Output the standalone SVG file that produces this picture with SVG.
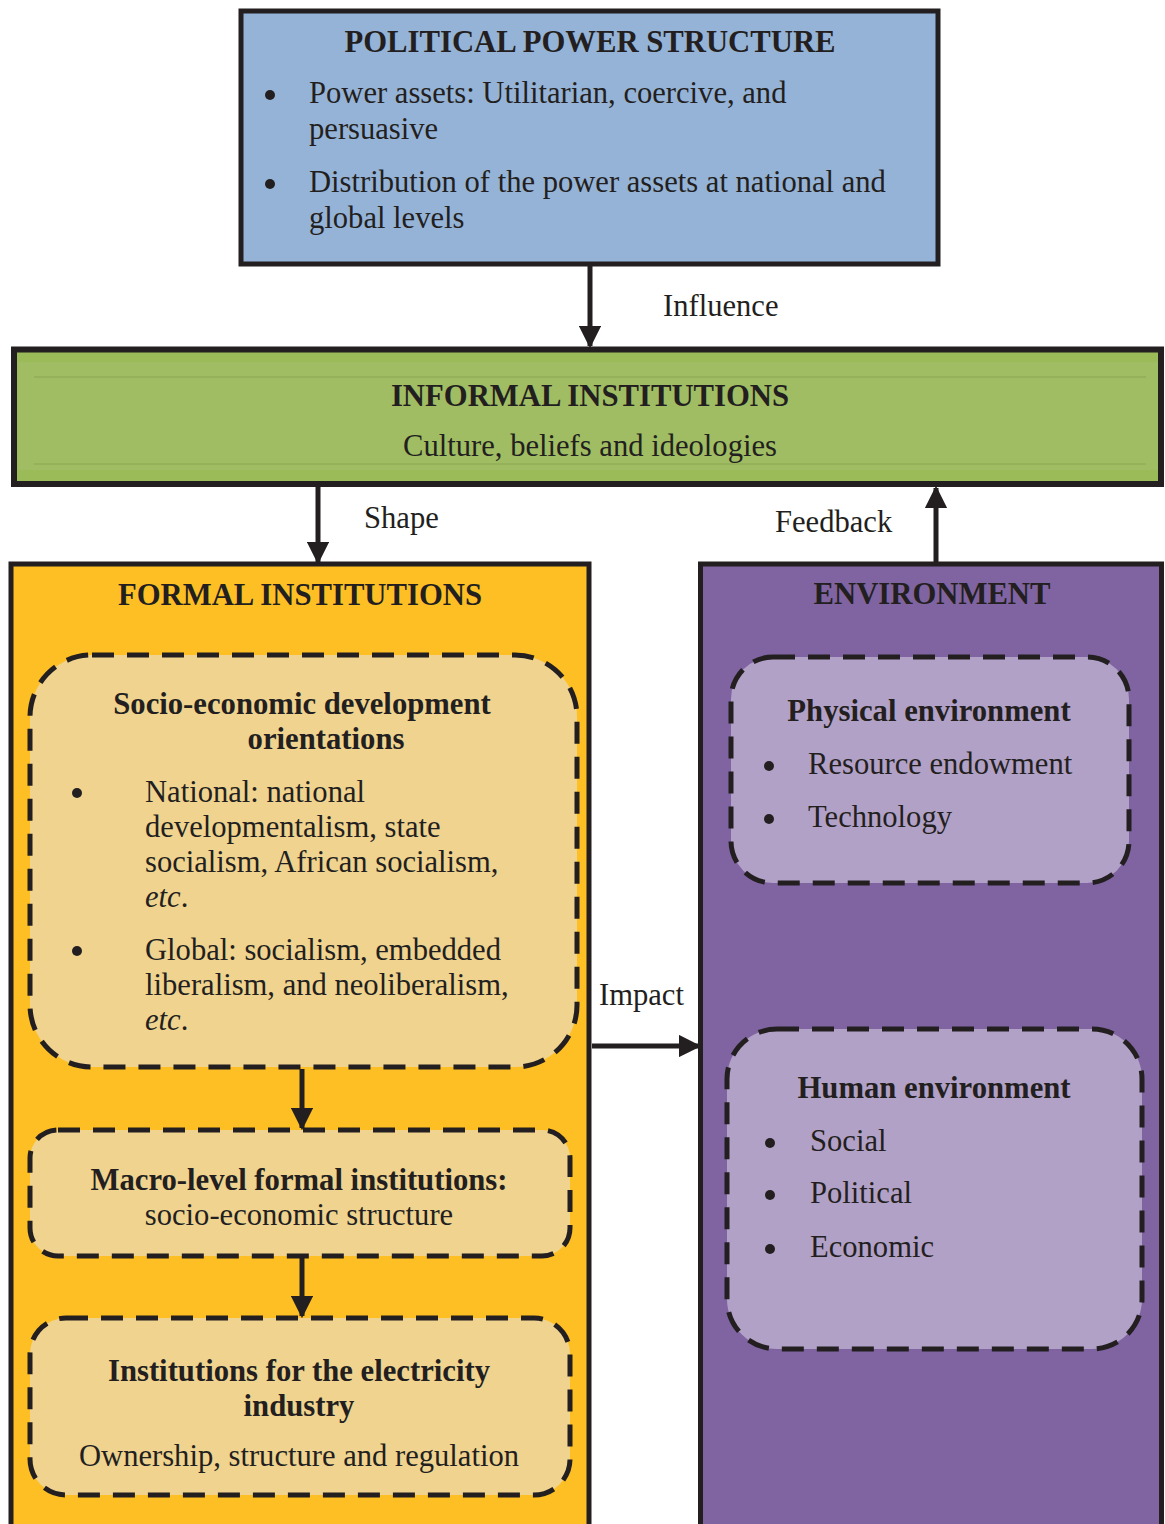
<svg xmlns="http://www.w3.org/2000/svg" width="1165" height="1524" viewBox="0 0 1165 1524">
  <style>
    .t { font-family: "Liberation Serif", "Times New Roman", serif; fill: #231f20; }
    .b { font-weight: bold; font-size: 30.7px; }
    .r { font-size: 30.6px; }
    .frame { stroke: #231f20; stroke-width: 5; }
    .dash { stroke: #231f20; stroke-width: 5; stroke-dasharray: 22 13; }
    .con { stroke: #231f20; stroke-width: 5; fill: none; }
    .dot { fill: #231f20; }
  </style>
  <defs>
    <marker id="arrow" viewBox="0 0 10 10" refX="9" refY="5" markerWidth="4.5" markerHeight="4.5" orient="auto" markerUnits="strokeWidth">
      <path d="M0,0 L10,5 L0,10 z" fill="#231f20"/>
    </marker>
  </defs>

  <rect width="1165" height="1524" fill="#ffffff"/>

  <!-- Political power structure -->
  <g id="political">
    <rect x="241" y="11" width="697" height="253" fill="#95b3d7" class="frame"/>
    <text class="t b" x="590" y="52" text-anchor="middle">POLITICAL POWER STRUCTURE</text>
    <circle class="dot" cx="270" cy="95" r="5"/>
    <text class="t r" x="309" y="103">Power assets: Utilitarian, coercive, and</text>
    <text class="t r" x="309" y="139">persuasive</text>
    <circle class="dot" cx="270" cy="184" r="5"/>
    <text class="t r" x="309" y="192">Distribution of the power assets at national and</text>
    <text class="t r" x="309" y="228">global levels</text>
  </g>

  <!-- Informal institutions -->
  <g id="informal">
    <rect x="14" y="349.5" width="1147" height="134.5" fill="#9bbb59" stroke="#231f20" stroke-width="6"/>
    <rect x="18" y="362" width="1140" height="108" fill="#a0bd63"/>
    <line x1="34" y1="377" x2="1146" y2="377" stroke="#8aa753" stroke-width="1.2"/>
    <line x1="34" y1="464" x2="1146" y2="464" stroke="#8aa753" stroke-width="1.2"/>
    <text class="t b" x="590" y="406" text-anchor="middle">INFORMAL INSTITUTIONS</text>
    <text class="t r" x="590" y="456" text-anchor="middle">Culture, beliefs and ideologies</text>
  </g>

  <!-- Formal institutions -->
  <g id="formal">
    <rect x="11" y="564" width="578" height="970" fill="#fdbf24" class="frame"/>
    <text class="t b" x="300" y="605" text-anchor="middle">FORMAL INSTITUTIONS</text>
  </g>

  <g id="orientations">
    <rect x="30" y="655" width="547" height="412" rx="62" fill="#efd38f" class="dash"/>
    <text class="t b" x="302" y="714" text-anchor="middle">Socio-economic development</text>
    <text class="t b" x="326" y="749" text-anchor="middle">orientations</text>
    <circle class="dot" cx="77" cy="793" r="5"/>
    <text class="t r" x="145" y="802">National: national</text>
    <text class="t r" x="145" y="837">developmentalism, state</text>
    <text class="t r" x="145" y="872">socialism, African socialism,</text>
    <text class="t r" x="145" y="907"><tspan font-style="italic">etc</tspan>.</text>
    <circle class="dot" cx="77" cy="951" r="5"/>
    <text class="t r" x="145" y="960">Global: socialism, embedded</text>
    <text class="t r" x="145" y="995">liberalism, and neoliberalism,</text>
    <text class="t r" x="145" y="1030"><tspan font-style="italic">etc</tspan>.</text>
  </g>

  <g id="macro">
    <rect x="30" y="1130" width="540" height="126" rx="28" fill="#efd38f" class="dash"/>
    <text class="t b" x="299" y="1190" text-anchor="middle">Macro-level formal institutions:</text>
    <text class="t r" x="299" y="1225" text-anchor="middle">socio-economic structure</text>
  </g>

  <g id="electricity">
    <rect x="30" y="1318" width="540" height="177" rx="36" fill="#efd38f" class="dash"/>
    <text class="t b" x="299" y="1381" text-anchor="middle">Institutions for the electricity</text>
    <text class="t b" x="299" y="1416" text-anchor="middle">industry</text>
    <text class="t r" x="299" y="1466" text-anchor="middle">Ownership, structure and regulation</text>
  </g>

  <!-- Environment -->
  <g id="environment">
    <rect x="700.5" y="564" width="461" height="970" fill="#8064a2" class="frame"/>
    <text class="t b" x="932" y="604" text-anchor="middle">ENVIRONMENT</text>
  </g>

  <g id="physical">
    <rect x="731" y="657" width="398" height="226" rx="42" fill="#b2a1c7" class="dash"/>
    <text class="t b" x="929" y="721" text-anchor="middle">Physical environment</text>
    <circle class="dot" cx="769" cy="766" r="5"/>
    <text class="t r" x="808" y="774">Resource endowment</text>
    <circle class="dot" cx="769" cy="819" r="5"/>
    <text class="t r" x="808" y="827">Technology</text>
  </g>

  <g id="human">
    <rect x="727" y="1029" width="415" height="320" rx="50" fill="#b2a1c7" class="dash"/>
    <text class="t b" x="934" y="1098" text-anchor="middle">Human environment</text>
    <circle class="dot" cx="770" cy="1143" r="5"/>
    <text class="t r" x="810" y="1151">Social</text>
    <circle class="dot" cx="770" cy="1195" r="5"/>
    <text class="t r" x="810" y="1203">Political</text>
    <circle class="dot" cx="770" cy="1249" r="5"/>
    <text class="t r" x="810" y="1257">Economic</text>
  </g>

  <!-- Connectors -->
  <g id="connectors">
    <line class="con" x1="590" y1="266" x2="590" y2="346" marker-end="url(#arrow)"/>
    <line class="con" x1="318" y1="487" x2="318" y2="562" marker-end="url(#arrow)"/>
    <line class="con" x1="936" y1="562" x2="936" y2="488" marker-end="url(#arrow)"/>
    <line class="con" x1="592" y1="1046" x2="699" y2="1046" marker-end="url(#arrow)"/>
    <line class="con" x1="302" y1="1069" x2="302" y2="1128" marker-end="url(#arrow)"/>
    <line class="con" x1="302" y1="1258" x2="302" y2="1316" marker-end="url(#arrow)"/>
    <text class="t r" x="663" y="316">Influence</text>
    <text class="t r" x="364" y="528">Shape</text>
    <text class="t r" x="775" y="532">Feedback</text>
    <text class="t r" x="599" y="1005">Impact</text>
  </g>
</svg>
